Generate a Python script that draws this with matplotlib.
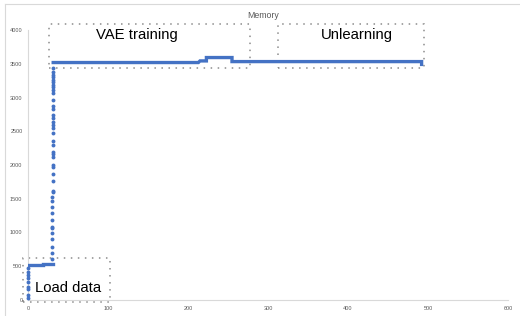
import matplotlib
matplotlib.use("Agg")
import matplotlib.pyplot as plt
from matplotlib.patches import Rectangle
from matplotlib.lines import Line2D

plt.rcParams['font.family'] = ['Liberation Sans', 'DejaVu Sans']

# memory samples while loading data (x ~ 0)
load_x = [0, 0, 0, 0, 0, 0, 0, 0, 0]
load_y = [35, 74, 158, 198, 272, 321, 370, 420, 469]

# sparse samples during the jump to ~3500
rise_x = [30, 30, 30, 30, 30, 30, 30, 30, 30.5, 30.5, 30.5, 30.5, 31, 31, 31, 31,
          31, 31, 31.5, 31.5, 31.5, 31.5, 31.5, 31.5, 31.5, 31.5, 31.5, 31.5, 31.5,
          31.5, 31.5, 31.5, 31.5, 31.5, 31.5, 31.5, 31.5, 31.5, 31.5, 31.5, 31.5, 31.5]
rise_y = [602, 691, 790, 904, 998, 1072, 1086, 1185, 1284, 1383, 1472, 1521, 1605,
          1620, 1763, 1862, 1975, 2000, 2123, 2163, 2197, 2296, 2356, 2469, 2553,
          2593, 2642, 2691, 2741, 2825, 2874, 2963, 3072, 3111, 3151, 3185, 3225,
          3259, 3299, 3333, 3383, 3432]

# dense samples -> drawn as a thick trace
trace1_x = [0, 19, 19, 31]
trace1_y = [515, 515, 530, 530]
trace2_x = [31.5, 213, 215, 223, 223, 255, 255, 492, 492]
trace2_y = [3518, 3518, 3542, 3542, 3592, 3592, 3532, 3532, 3490]

# annotation boxes (x0, y0, x1, y1) and labels
boxes = [(26, 3441, 277.5, 4084), (312, 3441, 495.5, 4084), (-6, -25, 102.5, 617)]
labels = ["VAE training", "Unlearning", "Load data"]
label_pos = [(136, 3926), (411, 3926), (50, 173)]

blue = '#4472C4'
grey = '#8c8c8c'

fig = plt.figure(figsize=(5.2, 3.16), dpi=100)
ax = fig.add_axes([28 / 520, 16 / 316, 480 / 520, 270 / 316])

ax.plot(trace1_x, trace1_y, color=blue, lw=2.4, solid_joinstyle='miter', zorder=3)
ax.plot(trace2_x, trace2_y, color=blue, lw=2.4, solid_joinstyle='miter', zorder=3)
ax.plot(load_x, load_y, 'o', color=blue, ms=2.8, mew=0, clip_on=False, zorder=3)
ax.plot(rise_x, rise_y, 'o', color=blue, ms=2.8, mew=0, zorder=3)

for (x0, y0, x1, y1) in boxes:
    ax.add_patch(Rectangle((x0, y0), x1 - x0, y1 - y0, fill=False, edgecolor=grey,
                           lw=1.1, linestyle=(0, (1, 3.6)), clip_on=False))
for txt, (tx, ty) in zip(labels, label_pos):
    ax.text(tx, ty, txt, ha='center', va='center', fontsize=10.7, color='black')

ax.set_xlim(0, 600)
ax.set_ylim(0, 4000)
ax.set_xticks(range(0, 601, 100))
ax.set_yticks(range(0, 4001, 500))
ax.tick_params(length=0, labelsize=4, labelcolor='#595959', pad=4)
for s in ['top', 'right']:
    ax.spines[s].set_visible(False)
for s in ['left', 'bottom']:
    ax.spines[s].set_color('#d9d9d9')
    ax.spines[s].set_linewidth(0.8)

fig.text(263 / 520, 1 - 15 / 316, "Memory", ha='center', va='center',
         fontsize=6.3, color='#595959')

# chart frame
fig.add_artist(Line2D([5 / 520, 1], [1 - 4 / 316] * 2, color='#d9d9d9', lw=0.8))
fig.add_artist(Line2D([5 / 520] * 2, [0, 1 - 4 / 316], color='#d9d9d9', lw=0.8))

fig.savefig('out.png', dpi=100)
